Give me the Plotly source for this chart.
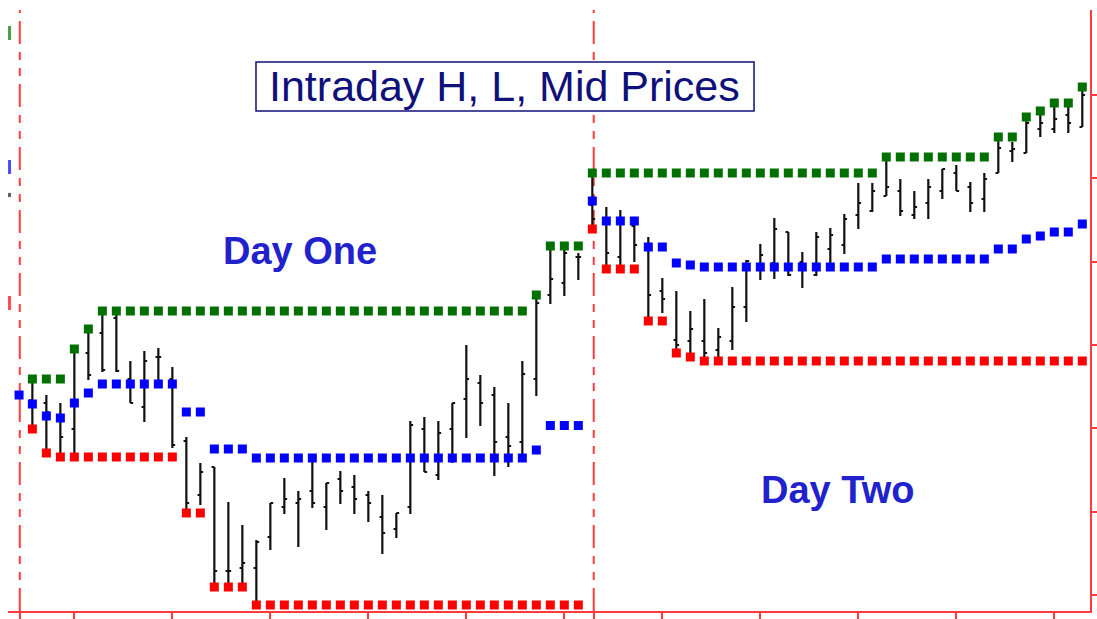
import plotly.graph_objects as go

# ---------------- data (price points) ----------------
bar_idx = list(range(76))

opens = [220, 217, 200, 191, 267, 287, 302, 241, 213, 263,
         241, 179, 125, 153, 49, 52, 52, 83, 113, 117,
         129, 113, 141, 133, 125, 103, 91, 113, 191, 145,
         191, 221, 237, 225, 183, 178, 241, 325, 337, 363,
         415, 400, 363, 394, 370, 329, 280, 279, 279, 270,
         279, 313, 355, 357, 388, 358, 345, 371, 375, 405,
         409, 424, 429, 405, 417, 429, 447, 433, 421, 447,
         469, 467, 491, 491, 505, 493]
highs = [241, 225, 217, 271, 291, 309, 307, 259, 269, 272,
         253, 183, 157, 153, 118, 95, 80, 117, 142, 129,
         158, 137, 149, 145, 129, 125, 107, 199, 203, 199,
         217, 275, 245, 233, 217, 259, 325, 374, 370, 367,
         447, 413, 410, 396, 383, 342, 329, 309, 321, 292,
         333, 360, 376, 402, 388, 368, 388, 392, 406, 437,
         437, 463, 441, 429, 441, 451, 455, 438, 447, 483,
         478, 503, 509, 517, 513, 533]
lows = [191, 167, 163, 163, 240, 248, 248, 217, 198, 235,
        172, 107, 115, 33, 37, 37, 15, 70, 106, 73,
        112, 90, 116, 106, 98, 66, 82, 106, 148, 140,
        157, 182, 194, 144, 153, 163, 224, 316, 324, 340,
        391, 351, 351, 358, 299, 307, 267, 263, 259, 263,
        270, 298, 340, 341, 344, 332, 344, 353, 366, 391,
        408, 424, 404, 401, 401, 421, 429, 408, 408, 447,
        458, 467, 483, 487, 487, 493]
closes = [213, 208, 183, 220, 245, 250, 249, 217, 259, 263,
          175, 117, 148, 49, 49, 57, 78, 117, 121, 121,
          117, 137, 129, 121, 117, 87, 107, 195, 148, 187,
          217, 241, 217, 178, 174, 246, 317, 341, 367, 363,
          401, 367, 400, 375, 325, 321, 275, 291, 267, 283,
          313, 359, 365, 391, 345, 352, 383, 385, 401, 417,
          429, 433, 409, 413, 433, 451, 429, 417, 441, 472,
          471, 497, 497, 501, 497, 525]

# intraday running high (green), running low (red), mid (blue)
run_high = [241, 241, 241, 271, 291, 309, 309, 309, 309, 309,
            309, 309, 309, 309, 309, 309, 309, 309, 309, 309,
            309, 309, 309, 309, 309, 309, 309, 309, 309, 309,
            309, 309, 309, 309, 309, 309, 325, 374, 374, 374,
            447, 447, 447, 447, 447, 447, 447, 447, 447, 447,
            447, 447, 447, 447, 447, 447, 447, 447, 447, 447,
            447, 463, 463, 463, 463, 463, 463, 463, 463, 483,
            483, 503, 509, 517, 517, 533]
run_low = [191, 167, 163, 163, 163, 163, 163, 163, 163, 163,
           163, 107, 107, 33, 33, 33, 15, 15, 15, 15,
           15, 15, 15, 15, 15, 15, 15, 15, 15, 15,
           15, 15, 15, 15, 15, 15, 15, 15, 15, 15,
           391, 351, 351, 351, 299, 299, 267, 263, 259, 259,
           259, 259, 259, 259, 259, 259, 259, 259, 259, 259,
           259, 259, 259, 259, 259, 259, 259, 259, 259, 259,
           259, 259, 259, 259, 259, 259]
mid_price = [216, 204, 202, 217, 227, 236, 236, 236, 236, 236,
             236, 208, 208, 171, 171, 171, 162, 162, 162, 162,
             162, 162, 162, 162, 162, 162, 162, 162, 162, 162,
             162, 162, 162, 162, 162, 162, 170, 194.5, 194.5, 194.5,
             419, 399, 399, 399, 373, 373, 357, 355, 353, 353,
             353, 353, 353, 353, 353, 353, 353, 353, 353, 353,
             353, 361, 361, 361, 361, 361, 361, 361, 361, 371,
             371, 381, 384, 388, 388, 396]

# previous-session mid shown before the first bar
prev_mid_idx = [-0.95]
prev_mid_val = [225]

# previous-day markers on the left edge: high, mid, close, low
prev_levels = [587, 453, 425, 317]
prev_colors = ["#007000", "#0000ff", "#222222", "#ff0000"]
prev_sizes = [10, 10, 3, 10]

# session boundaries and time ticks
session_starts = [-0.9, 40.1]
x_ticks = [-0.9, 3, 10, 17, 24, 31, 38, 40.1, 45, 52, 59, 66, 73]
y_ticks = [25, 108.3, 191.7, 275, 358.3, 441.7, 525]

title_text = "Intraday H, L, Mid Prices"
day_labels = ["Day One", "Day Two"]

AXIS_RED = "#ff3c3c"

fig = go.Figure()

fig.add_trace(go.Ohlc(
    x=bar_idx, open=opens, high=highs, low=lows, close=closes,
    increasing=dict(line=dict(color="#111111", width=2.2)),
    decreasing=dict(line=dict(color="#111111", width=2.2)),
    tickwidth=0.2, hoverinfo="skip", showlegend=False,
))

fig.add_trace(go.Scatter(x=bar_idx, y=run_high, mode="markers",
                         marker=dict(symbol="square", size=9, color="#007000"),
                         hoverinfo="skip", showlegend=False))
fig.add_trace(go.Scatter(x=bar_idx, y=run_low, mode="markers",
                         marker=dict(symbol="square", size=9, color="#ff0000"),
                         hoverinfo="skip", showlegend=False))
fig.add_trace(go.Scatter(x=bar_idx, y=mid_price, mode="markers",
                         marker=dict(symbol="square", size=9, color="#0000ff"),
                         hoverinfo="skip", showlegend=False))
fig.add_trace(go.Scatter(x=prev_mid_idx, y=prev_mid_val, mode="markers",
                         marker=dict(symbol="square", size=9, color="#0000ff"),
                         hoverinfo="skip", showlegend=False))

fig.add_trace(go.Scatter(
    x=[-1.63] * len(prev_levels), y=prev_levels, mode="markers",
    marker=dict(symbol="line-ns", size=prev_sizes,
                line=dict(color=prev_colors, width=3)),
    cliponaxis=False, hoverinfo="skip", showlegend=False))

for xs in session_starts:
    fig.add_shape(type="line", xref="x", yref="paper", x0=xs, x1=xs, y0=0, y1=1,
                  line=dict(color=AXIS_RED, width=2, dash="23px,8px,8px,8px,8px,8px"),
                  layer="below")

# title box
fig.add_shape(type="rect", xref="paper", yref="paper",
              x0=0.2292, x1=0.6895, y0=0.8319, y1=0.9135,
              line=dict(color="#10107a", width=1.5), fillcolor="white")
fig.add_annotation(text=title_text, xref="paper", yref="paper", x=0.4593, y=0.8735,
                   xanchor="center", yanchor="middle", showarrow=False,
                   font=dict(family="Liberation Sans, Arial", size=43, color="#10107a"))

fig.add_annotation(text="<b>" + day_labels[0] + "</b>", xref="paper", yref="paper",
                   x=0.2699, y=0.599, xanchor="center", yanchor="middle", showarrow=False,
                   font=dict(family="Liberation Sans, Arial", size=38, color="#2222cc"))
fig.add_annotation(text="<b>" + day_labels[1] + "</b>", xref="paper", yref="paper",
                   x=0.7662, y=0.2013, xanchor="center", yanchor="middle", showarrow=False,
                   font=dict(family="Liberation Sans, Arial", size=38, color="#2222cc"))

fig.update_layout(
    template="none",
    width=1097, height=619,
    margin=dict(l=8, r=7, t=10, b=8, autoexpand=False),
    paper_bgcolor="white", plot_bgcolor="white",
    showlegend=False,
    xaxis=dict(range=[-1.74, 75.55], showgrid=False, zeroline=False, automargin=False,
               showline=True, linecolor=AXIS_RED, linewidth=2,
               ticks="outside", ticklen=6, tickwidth=2, tickcolor=AXIS_RED,
               tickvals=x_ticks, showticklabels=False,
               rangeslider=dict(visible=False)),
    yaxis=dict(range=[9, 610], side="right", showgrid=False, zeroline=False, automargin=False,
               showline=True, linecolor=AXIS_RED, linewidth=2,
               ticks="outside", ticklen=5, tickwidth=2, tickcolor=AXIS_RED,
               tickvals=y_ticks, showticklabels=False),
)

# remove the default page margin so the figure fills the 1097x619 window exactly
fig.write_html("out.html",
               config={"displayModeBar": False},
               post_script="document.body.style.margin='0';"
                           "document.body.style.overflow='hidden';")
